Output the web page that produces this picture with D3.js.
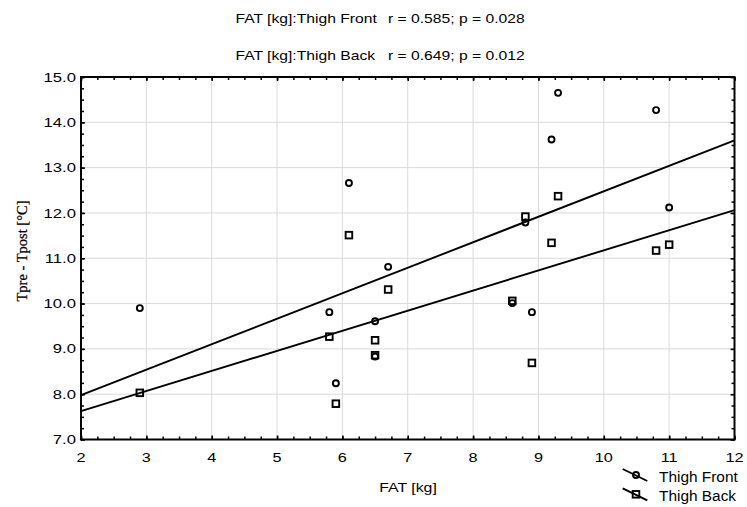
<!DOCTYPE html>
<html>
<head>
<meta charset="utf-8">
<script src="https://cdn.jsdelivr.net/npm/d3@7"></script>
<style>
  html, body { margin: 0; padding: 0; background: #fff; }
  svg { display: block; }
  text { font-family: Arial, "Liberation Sans", sans-serif; fill: #000; }
</style>
</head>
<body>
<svg id="chart" width="747" height="507"></svg>
<script>
// ---- data ----
const fat = [2.9, 6.1, 6.7, 5.8, 6.5, 6.5, 5.9, 9.3, 10.8, 9.2, 11.0, 8.8, 8.6, 8.9];
const thighFront = [9.90, 12.66, 10.81, 9.81, 9.61, 8.83, 8.24, 14.65, 14.27, 13.62, 12.12, 11.79, 10.01, 9.81];
const thighBack  = [8.03, 11.51, 10.31, 9.27, 9.19, 8.86, 7.79, 12.37, 11.17, 11.34, 11.30, 11.92, 10.06, 8.69];
const seriesNames = ["Thigh Front", "Thigh Back"];
const statLabels = ["r = 0.585; p = 0.028", "r = 0.649; p = 0.012"];
const xTicks = [2, 3, 4, 5, 6, 7, 8, 9, 10, 11, 12];
const yTicks = [7, 8, 9, 10, 11, 12, 13, 14, 15];
const xLabel = "FAT [kg]";
const yLabel = "Tpre - Tpost [°C]";

// ---- layout ----
const svg = d3.select("#chart");
const L = 81, R = 734.5, T = 77, B = 439.5;
const x = d3.scaleLinear().domain([2, 12]).range([L, R]);
const y = d3.scaleLinear().domain([7, 15]).range([B, T]);

function stretch(sel, k, anchor, ax) {
  sel.each(function () {
    const len = this.getComputedTextLength();
    const w = len * k;
    const s = d3.select(this).attr("textLength", w).attr("lengthAdjust", "spacingAndGlyphs");
    let x0 = ax;
    if (anchor === "middle") x0 = ax - w / 2;
    else if (anchor === "end") x0 = ax - w;
    s.attr("x", x0);
  });
}

// gridlines
const grid = svg.append("g");
grid.selectAll("line.gx").data(xTicks.slice(1, -1)).join("line")
  .attr("x1", d => x(d)).attr("x2", d => x(d)).attr("y1", T).attr("y2", B)
  .attr("stroke", "#dadada").attr("stroke-width", 1);
grid.selectAll("line.gy").data(yTicks.slice(1, -1)).join("line")
  .attr("y1", d => y(d)).attr("y2", d => y(d)).attr("x1", L).attr("x2", R)
  .attr("stroke", "#dadada").attr("stroke-width", 1);

// axes with inward ticks on all four sides
const xMinor = d3.range(2, 12.001, 0.25);
const yMinor = d3.range(7, 15.001, 0.25);
function ax(axisFn, scale, vals, size, transform) {
  const g = svg.append("g").attr("transform", transform)
    .call(axisFn(scale).tickValues(vals).tickSize(size).tickFormat(""));
  g.select(".domain").remove();
  g.selectAll(".tick line").attr("stroke", "#000").attr("stroke-width", 1.5);
  return g;
}
ax(d3.axisTop, x, xMinor, 3, `translate(0,${B})`);
ax(d3.axisTop, x, xTicks, 4, `translate(0,${B})`);
ax(d3.axisBottom, x, xMinor, 3, `translate(0,${T})`);
ax(d3.axisBottom, x, xTicks, 4, `translate(0,${T})`);
ax(d3.axisRight, y, yMinor, 3, `translate(${L},0)`);
ax(d3.axisRight, y, yTicks, 4, `translate(${L},0)`);
ax(d3.axisLeft, y, yMinor, 3, `translate(${R},0)`);
ax(d3.axisLeft, y, yTicks, 4, `translate(${R},0)`);

// frame
svg.append("rect").attr("x", L).attr("y", T).attr("width", R - L).attr("height", B - T)
  .attr("fill", "none").attr("stroke", "#000").attr("stroke-width", 2);

// tick labels
svg.append("g").selectAll("text").data(xTicks).join("text")
  .attr("y", 461.5).attr("font-size", 13).text(d => d)
  .each(function (d) { stretch(d3.select(this), 1.25, "middle", x(d)); });
svg.append("g").selectAll("text").data(yTicks).join("text")
  .attr("y", d => y(d) + 4.6).attr("font-size", 13).text(d => d.toFixed(1))
  .each(function () { stretch(d3.select(this), 1.28, "end", 76); });

// regression lines (least squares from data)
function fit(xs, ys) {
  const mx = d3.mean(xs), my = d3.mean(ys);
  const sxy = d3.sum(xs, (v, i) => (v - mx) * (ys[i] - my));
  const sxx = d3.sum(xs, v => (v - mx) * (v - mx));
  const b = sxy / sxx;
  return v => my + b * (v - mx);
}
const fits = [fit(fat, thighFront), fit(fat, thighBack)];
const line = d3.line().x(d => x(d[0])).y(d => y(d[1]));
fits.forEach(f => {
  svg.append("path").attr("d", line([[2, f(2)], [12, f(12)]]))
    .attr("fill", "none").attr("stroke", "#000").attr("stroke-width", 1.9);
});

// points
const ptsF = fat.map((v, i) => [v, thighFront[i]]);
const ptsB = fat.map((v, i) => [v, thighBack[i]]);
svg.append("g").selectAll("circle").data(ptsF).join("circle")
  .attr("cx", d => x(d[0])).attr("cy", d => y(d[1])).attr("r", 3)
  .attr("fill", "none").attr("stroke", "#000").attr("stroke-width", 1.9);
svg.append("g").selectAll("rect").data(ptsB).join("rect")
  .attr("x", d => x(d[0]) - 3.3).attr("y", d => y(d[1]) - 3.3)
  .attr("width", 6.6).attr("height", 6.6)
  .attr("fill", "none").attr("stroke", "#000").attr("stroke-width", 1.9);

// titles
const titleY = [22.5, 59.5];
seriesNames.forEach((n, i) => {
  svg.append("text").attr("y", titleY[i]).attr("font-size", 13.5).text(`FAT [kg]:${n}`)
    .call(s => stretch(s, 1.16, "start", 235.5));
  svg.append("text").attr("y", titleY[i]).attr("font-size", 13.5).text(statLabels[i])
    .call(s => stretch(s, 1.16, "start", 388));
});

// axis labels
svg.append("text").attr("y", 492).attr("font-size", 13).text(xLabel)
  .call(s => stretch(s, 1.22, "middle", 408));
svg.append("text")
  .attr("transform", "translate(27,251) rotate(-90)")
  .attr("text-anchor", "middle")
  .style("font-family", "'Liberation Serif', 'Times New Roman', serif")
  .style("fill", "#000")
  .attr("stroke", "#000").attr("stroke-width", 0.25)
  .attr("font-size", 14.5).text(yLabel);

// legend
const legY = [475, 494.3];
seriesNames.forEach((n, i) => {
  const g = svg.append("g");
  g.append("line").attr("x1", 622.7).attr("y1", legY[i] - 6).attr("x2", 647.3).attr("y2", legY[i] + 6)
    .attr("stroke", "#000").attr("stroke-width", 1.9);
  if (i === 0) {
    g.append("circle").attr("cx", 636).attr("cy", legY[i]).attr("r", 3)
      .attr("fill", "none").attr("stroke", "#000").attr("stroke-width", 1.9);
  } else {
    g.append("rect").attr("x", 636 - 3.3).attr("y", legY[i] - 3.3).attr("width", 6.6).attr("height", 6.6)
      .attr("fill", "none").attr("stroke", "#000").attr("stroke-width", 1.9);
  }
  g.append("text").attr("y", legY[i] + 6.5).attr("font-size", 14).text(n)
    .call(s => stretch(s, 1.1, "start", 659));
});
</script>
</body>
</html>
